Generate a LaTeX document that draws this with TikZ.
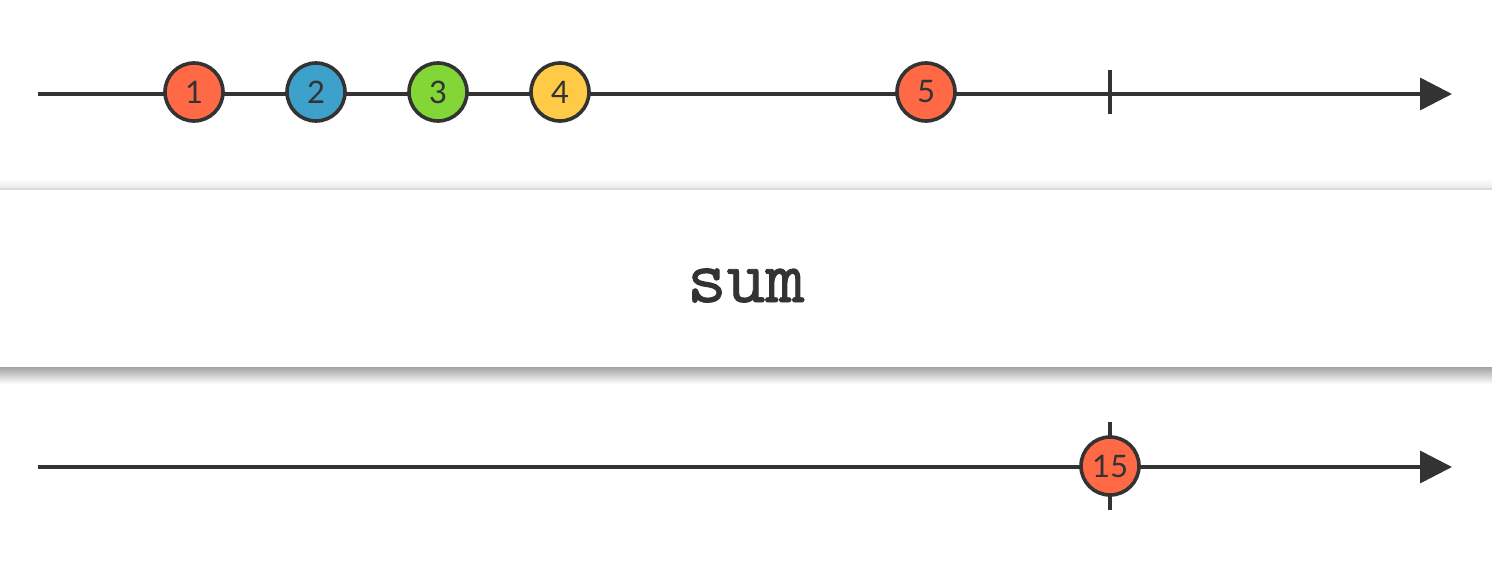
\documentclass[tikz,border=0pt]{standalone}
\usepackage{fontspec}
\setmainfont{Lato}
\newfontfamily\opfont[FakeBold=1.2]{Latin Modern Mono}
\usetikzlibrary{arrows.meta}
\definecolor{ink}{HTML}{333333}
\definecolor{mred}{HTML}{FF6946}
\definecolor{mblue}{HTML}{3EA1CB}
\definecolor{mgreen}{HTML}{82D736}
\definecolor{myellow}{HTML}{FFCB46}
\begin{document}
\begin{tikzpicture}[x=1pt,y=-1pt,
  timeline/.style={draw=ink,line width=3.6pt,-{Triangle[length=32pt,width=32pt]}},
  marble/.style={circle,draw=ink,line width=3.6pt,minimum size=58pt,inner sep=0pt,
    font=\fontsize{31}{31}\selectfont,text=ink},
  endtick/.style={draw=ink,line width=3.6pt},
  opbox/.style={rectangle,fill=white,minimum width=1492pt,minimum height=178pt,inner sep=0pt},
  optext/.style={anchor=base,inner sep=0pt,font=\opfont\fontsize{76}{76}\selectfont,text=ink}]
\useasboundingbox (0,0) rectangle (1492,562);
\fill[white] (0,0) rectangle (1492,562);
% top timeline
\coordinate (ts) at (38,94);
\coordinate (te) at (1452,94);
\draw[timeline] (ts) -- (te);
\coordinate (tt1) at (1110,70);
\coordinate (tt2) at (1110,114);
\draw[endtick] (tt1) -- (tt2);
\node[marble,fill=mred] (m1) at (194,92) {1};
\node[marble,fill=mblue] (m2) at (316,92) {2};
\node[marble,fill=mgreen] (m3) at (438,92) {3};
\node[marble,fill=myellow] (m4) at (560,92) {4};
\node[marble,fill=mred] (m5) at (926,92) {5};
% operator box shadows
\shade[top color=white,bottom color=black!8] (0,178) rectangle (1492,188);
\shade[top color=black!36,bottom color=white] (0,367) rectangle (1492,384);
\node[opbox] (op) at (746,278) {};
\node[optext] (opname) at (746,302) {sum};
\draw[black!14,line width=1.6pt] (0,188.8) -- (1492,188.8);
% bottom timeline
\coordinate (bs) at (38,467);
\coordinate (be) at (1452,467);
\draw[timeline] (bs) -- (be);
\coordinate (bt1) at (1110,422);
\coordinate (bt2) at (1110,510);
\draw[endtick] (bt1) -- (bt2);
\node[marble,fill=mred] (m15) at (1110,466) {15};
\end{tikzpicture}
\end{document}
